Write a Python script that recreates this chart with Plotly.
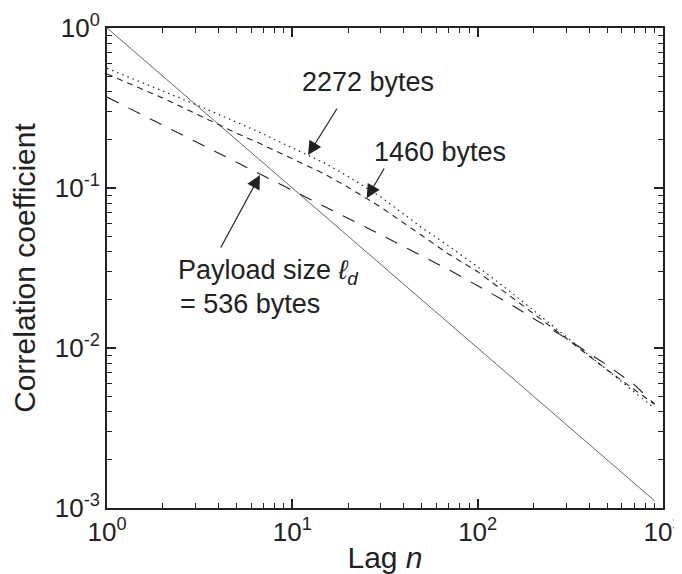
import plotly.graph_objects as go

# Data
lags = [1, 2, 3, 5, 7, 10, 15, 20, 30, 50, 70, 100, 150, 200, 300, 500, 700, 900]
corr_536 = [0.37, 0.247, 0.195, 0.145, 0.119, 0.097, 0.077, 0.065, 0.051, 0.0376, 0.0308,
            0.0245, 0.0188, 0.0153, 0.0115, 0.0078, 0.0059, 0.00447]
corr_1460 = [0.516, 0.365, 0.292, 0.22, 0.185, 0.152, 0.122, 0.101, 0.076, 0.0505, 0.0385,
             0.0300, 0.0212, 0.0164, 0.0115, 0.0073, 0.0055, 0.00445]
corr_2272 = [0.56, 0.405, 0.333, 0.258, 0.217, 0.178, 0.143, 0.118, 0.088, 0.0565, 0.0433,
             0.0322, 0.0225, 0.0172, 0.0118, 0.0073, 0.0053, 0.0042]
ref_lags = [1, 10, 100, 900]
ref_corr = [1.0, 0.1, 0.01, 0.00111]

x_tickvals = [1, 10, 100, 1000]
x_ticktext = ["10<sup>0</sup>", "10<sup>1</sup>", "10<sup>2</sup>", "10<sup>3</sup>"]
y_tickvals = [0.001, 0.01, 0.1, 1]
y_ticktext = ["10<sup>-3</sup>", "10<sup>-2</sup>", "10<sup>-1</sup>", "10<sup>0</sup>"]

FONT = "Liberation Sans, Arial, sans-serif"
INK = "#222222"

fig = go.Figure()
fig.add_trace(go.Scatter(x=ref_lags, y=ref_corr, mode="lines",
                         line=dict(color="#666666", width=1), showlegend=False))
fig.add_trace(go.Scatter(x=lags, y=corr_536, mode="lines",
                         line=dict(color=INK, width=1.1, dash="13px,11px"), showlegend=False))
fig.add_trace(go.Scatter(x=lags, y=corr_1460, mode="lines",
                         line=dict(color=INK, width=1.1, dash="6px,5px"), showlegend=False))
fig.add_trace(go.Scatter(x=lags, y=corr_2272, mode="lines",
                         line=dict(color=INK, width=1.2, dash="1.5px,4px"), showlegend=False))

# page pixel geometry of the plot area (page body has an 8px offset)
OFF = 8
L, R, T, B = 107, 663, 28, 508
PW, PH = 682, 574
W, H = PW - OFF, PH - OFF


def px2data(px, py):
    lx = (px - L) / ((R - L) / 3.0)
    ly = -(py - T) / ((B - T) / 3.0)
    return lx, ly


def px2paper(px, py):
    return (px - L) / (R - L), (B - py) / (B - T)


annotations = []
# arrows (tip, tail in pixels)
for tip, tail in [((308, 155), (338, 107)),
                  ((366.7, 198.3), (385, 167)),
                  ((260, 175), (220, 249))]:
    tx, ty = px2data(*tip)
    annotations.append(dict(x=tx, y=ty, xref="x", yref="y", text="",
                            showarrow=True, arrowhead=2, arrowsize=2.3,
                            arrowwidth=1.2, arrowcolor=INK,
                            ax=tail[0] - tip[0], ay=tail[1] - tip[1]))

# text labels
for txt, (px, py) in [("2272 bytes", (300, 82)),
                      ("1460 bytes", (372, 152)),
                      ("Payload size <i>ℓ</i><sub><i>d</i></sub>", (176, 272)),
                      ("= 536 bytes", (178, 304))]:
    xx, yy = px2paper(px, py)
    annotations.append(dict(x=xx, y=yy, xref="paper", yref="paper", text=txt,
                            showarrow=False, xanchor="left", yanchor="middle",
                            font=dict(family=FONT, size=27, color=INK)))

axis_common = dict(type="log", showgrid=False, zeroline=False, automargin=False,
                   showline=True, linecolor=INK, linewidth=2, mirror="ticks",
                   ticks="inside", ticklen=9, tickwidth=1.5, tickcolor=INK,
                   ticklabeloverflow="allow",
                   minor=dict(ticks="inside", ticklen=5, tickwidth=1.2,
                              tickcolor=INK, dtick="D1", showgrid=False),
                   tickfont=dict(family=FONT, size=26, color=INK))

fig.update_layout(
    width=W, height=H,
    margin=dict(l=L - OFF, r=PW - R, t=T - OFF, b=PH - B, autoexpand=False),
    plot_bgcolor="white", paper_bgcolor="white",
    xaxis=dict(range=[0, 3], tickvals=x_tickvals, ticktext=x_ticktext,
               title=dict(text="Lag <i>n</i>", standoff=11,
                          font=dict(family=FONT, size=30, color=INK)),
               **axis_common),
    yaxis=dict(range=[-3, 0], tickvals=y_tickvals, ticktext=y_ticktext,
               title=dict(text="Correlation coefficient", standoff=11,
                          font=dict(family=FONT, size=30, color=INK)),
               **axis_common),
    annotations=annotations,
)

fig.write_html("out.html")
